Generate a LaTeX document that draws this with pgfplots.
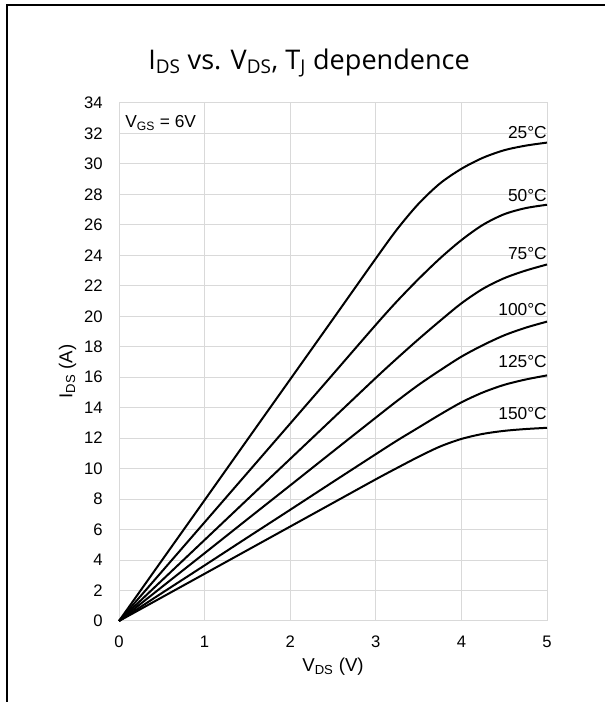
\documentclass[border=0pt]{standalone}
\usepackage{fontspec}
\setmainfont{Liberation Sans}
\newfontfamily\titlefont{Open Sans}
\usepackage{pgfplots}
\usepackage{pgfplotstable}
\pgfplotsset{compat=1.18}
\definecolor{gridgray}{HTML}{D9D9D9}

% I_DS (A) vs V_DS (V) for each junction temperature, V_GS = 6 V
\pgfplotstableread{
V     T25   T50   T75   T100  T125  T150
0     0     0     0     0     0     0
0.5   3.97  3.24  2.66  2.23  1.83  1.55
1     7.93  6.48  5.32  4.45  3.65  3.10
1.5   11.90 9.72  7.98  6.68  5.48  4.65
2     15.86 12.96 10.64 8.90  7.30  6.20
2.5   19.82 16.20 13.30 11.13 9.13  7.75
3     23.79 19.44 15.96 13.35 10.95 9.30
3.25  25.72 21.00 17.25 14.45 11.85 10.05
3.5   27.39 22.45 18.50 15.50 12.70 10.78
3.75  28.72 23.80 19.70 16.45 13.55 11.45
4     29.68 25.00 20.85 17.35 14.35 11.95
4.25  30.40 26.00 21.80 18.10 15.00 12.28
4.5   30.90 26.70 22.50 18.75 15.50 12.48
4.75  31.20 27.10 23.00 19.25 15.85 12.60
5     31.40 27.32 23.40 19.65 16.12 12.68
}\idsdata

\pgfplotsset{curve/.style={black, line width=1.5pt, smooth, no markers}}

\begin{document}
\begin{tikzpicture}
\useasboundingbox (0,0) rectangle (453pt,526.5pt);
\draw[line width=1.4pt] (5.1pt,-3pt) -- (5.1pt,522.6pt) -- (470pt,522.6pt);
\node[anchor=base, inner sep=0pt, font=\titlefont\fontsize{20.3}{24}\selectfont]
  at (231.75pt,474.5pt) {I\textsubscript{DS} vs. V\textsubscript{DS}, T\textsubscript{J} dependence};

\begin{axis}[
    at={(89.25pt,60.75pt)}, anchor=south west,
    scale only axis, width=321pt, height=388.5pt,
    xmin=0, xmax=5, ymin=0, ymax=34,
    xtick={0,1,...,5}, ytick={0,2,...,34},
    grid=major,
    grid style={gridgray, line width=0.75pt},
    axis line style={gridgray, line width=0.75pt},
    major tick length=0pt,
    tick label style={font=\fontsize{12.5}{15}\selectfont, inner sep=0pt},
    /pgf/number format/assume math mode=true,
    xticklabel style={anchor=north, yshift=-11.25pt},
    yticklabel style={anchor=east, xshift=-12pt},
    xlabel={V\textsubscript{DS} (V)},
    ylabel={I\textsubscript{DS} (A)},
    label style={font=\fontsize{14}{16}\selectfont, inner sep=0pt},
    xlabel style={at={(axis description cs:0.5,-0.0714)}, anchor=north},
    ylabel style={at={(axis description cs:-0.0994,0.4817)}, anchor=south},
    clip=false,
]
\addplot[curve] table[x=V, y=T25] {\idsdata};
\addplot[curve] table[x=V, y=T50] {\idsdata};
\addplot[curve] table[x=V, y=T75] {\idsdata};
\addplot[curve] table[x=V, y=T100] {\idsdata};
\addplot[curve] table[x=V, y=T125] {\idsdata};
\addplot[curve] table[x=V, y=T150] {\idsdata};

\node[anchor=base west, inner sep=0pt, font=\fontsize{13}{15}\selectfont]
  at (axis cs:0.07,32.36) {V\textsubscript{GS} = 6V};
\begin{scope}[every node/.style={anchor=base east, inner sep=0pt, font=\fontsize{13}{15}\selectfont}]
\node at (axis cs:5,31.70) {25°C};
\node at (axis cs:5,27.52) {50°C};
\node at (axis cs:5,23.70) {75°C};
\node at (axis cs:5,20.04) {100°C};
\node at (axis cs:5,16.63) {125°C};
\node at (axis cs:5,13.24) {150°C};
\end{scope}
\end{axis}
\end{tikzpicture}
\end{document}
